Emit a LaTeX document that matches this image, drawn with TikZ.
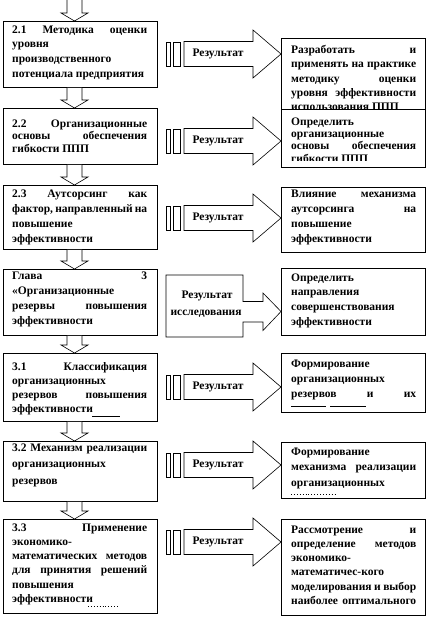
\documentclass[tikz,border=0pt]{standalone}
\usepackage{fontspec}
\setmainfont{Liberation Serif}
\usetikzlibrary{calc}
\setlength{\parindent}{0pt}
\tikzset{
  box/.style={draw, line width=0.8pt, fill=white, anchor=north west, inner sep=0pt},
  txt/.style={anchor=north west, inner sep=0pt, align=justify},
  arr/.style={draw, line width=0.6pt, fill=white},
  lbl/.style={inner sep=0pt, font=\bfseries\fontsize{11.5}{13}\selectfont},
  artline/.style={line width=0.9pt},
}
\newcommand\mkbox[5]{\node[box, minimum width=#4pt, minimum height=#5pt] (#1) at (#2,#3) {};}
\newcommand\mktext[6]{\node[txt, text width=#4pt, font=\bfseries\fontsize{11.5}{#5}\selectfont] (#1) at (#2,#3) {\rule{0pt}{8pt}#6};}
\newcommand\downarr[2]{%
  \draw[arr] ($(cx|-#1)+(-7.5,0)$) -- ($(cx|-#2)+(-7.5,-8)$) -- ++(-6,0) -- (cx|-#2)
    -- ($(cx|-#2)+(13.5,-8)$) -- ++(-6,0) -- ($(cx|-#1)+(7.5,0)$);}
\newcommand\resarr[3]{%
  \coordinate (y#3) at (0,#2);
  \coordinate (tip#3) at (#1.west |- y#3);
  \draw[arr] (tip#3) -- ++(-28,-24) -- ++(0,11.5) -- ++(-69,0) -- ++(0,25) -- ++(69,0) -- ++(0,11.5) -- cycle;
  \draw[arr] ($(tip#3)+(-115,-12)$) rectangle ++(4,24);
  \draw[arr] ($(tip#3)+(-108,-12)$) rectangle ++(7,24);
  \node[lbl] (lab#3) at ($(tip#3)+(-63,0)$) {Результат};}
\begin{document}
\begin{tikzpicture}[x=1pt,y=-1pt]
\useasboundingbox (0,0) rectangle (428,617);
\fill[white] (0,0) rectangle (428,617);
\coordinate (cx) at (74.5,0);
\coordinate (top) at (74.5,0);
% left column
\mkbox{L1}{3}{21}{154}{66}
\mktext{L1t}{12}{25}{135}{14.7}{2.1 Методика оценки\linebreak уровня\linebreak производственного\linebreak потенциала предприятия}
\mkbox{L2}{3}{108}{154}{56}
\mktext{L2t}{12}{119}{135}{12.7}{2.2 Организационные\linebreak основы обеспечения\linebreak гибкости ППП}
\mkbox{L3}{3}{185}{154}{64}
\mktext{L3t}{12}{189}{135}{15}{2.3 Аутсорсинг как\linebreak фактор, направленный на\linebreak повышение\linebreak эффективности}
\mkbox{L4}{3}{269}{154}{66}
\mktext{L4t}{12}{271}{135}{15.2}{Глава 3\linebreak «Организационные\linebreak резервы повышения\linebreak эффективности}
\mkbox{L5}{3}{353}{154}{68}
\mktext{L5t}{12}{362}{135}{14}{3.1 Классификация\linebreak организационных\linebreak резервов повышения\linebreak эффективности}
\draw[artline] (92,416) -- (120,416);
\mkbox{L6}{3}{441}{154}{60}
\mktext{L6t}{12}{443}{135}{16.5}{3.2 Механизм реализации\linebreak организационных\linebreak резервов}
\mkbox{L7}{3}{519}{154}{94}
\mktext{L7t}{12}{523}{135}{14.2}{3.3 Применение\linebreak экономико-\linebreak математических методов\linebreak для принятия решений\linebreak повышения\linebreak эффективности}
\draw[artline, dotted] (88,606) -- (118,606);
% down arrows
\downarr{top}{L1.north}
\downarr{L1.south}{L2.north}
\downarr{L2.south}{L3.north}
\downarr{L3.south}{L4.north}
\downarr{L4.south}{L5.north}
\downarr{L5.south}{L6.north}
\downarr{L6.south}{L7.north}
% right column
\mkbox{R1}{281}{38}{144}{71}
\mktext{R1t}{291}{45}{125}{14.3}{Разработать и\linebreak применять на практике\linebreak методику оценки\linebreak уровня эффективности\linebreak использования ППП}
\mkbox{R2}{281}{109}{144}{58}
\begin{scope}
\clip (281,109) rectangle (425,161);
\mktext{R2t}{291}{117}{125}{12.3}{Определить\linebreak организационные\linebreak основы обеспечения\linebreak гибкости ППП}
\end{scope}
\mkbox{R3}{281}{187}{144}{65}
\mktext{R3t}{291}{189}{125}{15}{Влияние механизма\linebreak аутсорсинга на\linebreak повышение\linebreak эффективности}
\mkbox{R4}{281}{268}{144}{67}
\mktext{R4t}{291}{273}{125}{14.7}{Определить\linebreak направления\linebreak совершенствования\linebreak эффективности}
\mkbox{R5}{281}{353}{144}{59}
\mktext{R5t}{291}{359}{125}{15}{Формирование\linebreak организационных\linebreak резервов и их\linebreak}
\draw[artline] (291,406) -- (326,406) (330,406) -- (366,406);
\mkbox{R6}{281}{442}{144}{56}
\mktext{R6t}{291}{447}{125}{15.5}{Формирование\linebreak механизма реализации\linebreak организационных}
\draw[artline, dotted] (291,494) -- (337,494);
\mkbox{R7}{281}{519}{144}{96}
\mktext{R7t}{291}{525}{125}{14.2}{Рассмотрение и\linebreak определение методов\linebreak экономико-\linebreak математичес-кого\linebreak моделирования и выбор\linebreak наиболее оптимального\linebreak}
% result arrows
\resarr{R1}{54}{1}
\resarr{R2}{141}{2}
\resarr{R3}{218}{3}
\resarr{R5}{387}{5}
\resarr{R6}{465}{6}
\resarr{R7}{542}{7}
% research result callout
\coordinate (y4) at (0,311.5);
\coordinate (tip4) at (R4.west |- y4);
\draw[arr] (tip4) -- ++(-18,-18.5) -- ++(0,8.5) -- ++(-20,0) -- ++(0,-26.5) -- ++(-77,0)
  -- ++(0,62) -- ++(77,0) -- ++(0,-15) -- ++(20,0) -- ++(0,8.5) -- cycle;
\node[lbl] (lab4a) at (207,296) {Результат};
\node[lbl] (lab4b) at (206,314) {исследования};
\end{tikzpicture}
\end{document}
